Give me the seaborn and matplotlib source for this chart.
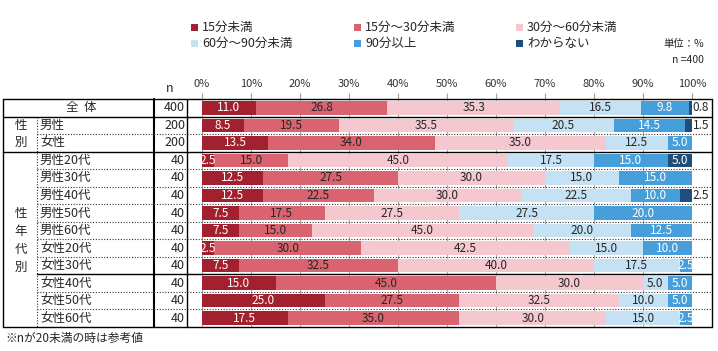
import matplotlib
matplotlib.use("Agg")
import matplotlib.pyplot as plt
import numpy as np
import pandas as pd
import seaborn as sns

# ---- data ----
CATEGORIES = ["全体", "男性", "女性",
              "男性20代", "男性30代", "男性40代", "男性50代", "男性60代",
              "女性20代", "女性30代", "女性40代", "女性50代", "女性60代"]
N_VALUES = [400, 200, 200, 40, 40, 40, 40, 40, 40, 40, 40, 40, 40]
SERIES = ["15分未満", "15分～30分未満", "30分～60分未満",
          "60分～90分未満", "90分以上", "わからない"]
LT15 = [11.0, 8.5, 13.5, 2.5, 12.5, 12.5, 7.5, 7.5, 2.5, 7.5, 15.0, 25.0, 17.5]
M15_30 = [26.8, 19.5, 34.0, 15.0, 27.5, 22.5, 17.5, 15.0, 30.0, 32.5, 45.0, 27.5, 35.0]
M30_60 = [35.3, 35.5, 35.0, 45.0, 30.0, 30.0, 27.5, 45.0, 42.5, 40.0, 30.0, 32.5, 30.0]
M60_90 = [16.5, 20.5, 12.5, 17.5, 15.0, 22.5, 27.5, 20.0, 15.0, 17.5, 5.0, 10.0, 15.0]
GE90 = [9.8, 14.5, 5.0, 15.0, 15.0, 10.0, 20.0, 12.5, 10.0, 2.5, 5.0, 5.0, 2.5]
UNKNOWN = [0.8, 1.5, 0.0, 5.0, 0.0, 2.5, 0.0, 0.0, 0.0, 0.0, 0.0, 0.0, 0.0]
TICKS = [0, 10, 20, 30, 40, 50, 60, 70, 80, 90, 100]

COLORS = ["#A3202F", "#D9646F", "#F5C8CF", "#C5E2F4", "#469FDA", "#1E4E7A"]
TEXT_COLORS = ["white", "#262626", "#262626", "#262626", "white", "white"]

W, H = 718, 351
TOP, ROW = 99.0, 17.54

sns.set_theme(style="white")
plt.rcParams["font.family"] = ["Noto Sans CJK JP", "DejaVu Sans"]

values = np.array([LT15, M15_30, M30_60, M60_90, GE90, UNKNOWN])
cums = values.cumsum(axis=0)

fig = plt.figure(figsize=(W / 100, H / 100), dpi=100)
ax = fig.add_axes([202 / W, 1 - (TOP + ROW * len(CATEGORIES)) / H,
                   490 / W, ROW * len(CATEGORIES) / H])
ax.set_facecolor("none")
ax.set_zorder(1)

# stacked bars: draw cumulative totals from the last series back to the first
for k in range(len(SERIES) - 1, -1, -1):
    df = pd.DataFrame({"区分": CATEGORIES, "cum": cums[k]})
    sns.barplot(data=df, x="cum", y="区分", order=CATEGORIES, orient="h",
                color=COLORS[k], width=0.77, saturation=1, ax=ax,
                linewidth=0, zorder=2)

for i in range(len(CATEGORIES)):
    for k in range(len(SERIES)):
        v = values[k, i]
        if v <= 0:
            continue
        if k == 5 and v < 3:
            ax.text(101.8, i, f"{v:.1f}", ha="center", va="center",
                    fontsize=8.5, color="#262626", clip_on=False)
            continue
        ax.text(cums[k, i] - v / 2, i, f"{v:.1f}", ha="center", va="center",
                fontsize=8.5, color=TEXT_COLORS[k], clip_on=True, zorder=5)

ax.set_xlim(0, 100)
ax.set_ylim(len(CATEGORIES) - 0.5, -0.5)
ax.xaxis.tick_top()
ax.set_xticks(TICKS)
ax.set_xticklabels([f"{t}%" for t in TICKS])
ax.tick_params(axis="x", length=4, width=0.8, color="#A0A0A0", pad=3,
               labelsize=8, labelcolor="#333333", top=True, bottom=False)
ax.set_yticks([])
ax.set_xlabel("")
ax.set_ylabel("")
for s in ax.spines.values():
    s.set_visible(False)
ax.grid(axis="x", color="#A8A8A8", lw=0.8)
ax.set_axisbelow(True)

# ---- table, labels and legend on a pixel overlay ----
ov = fig.add_axes([0, 0, 1, 1])
ov.set_xlim(0, W)
ov.set_ylim(H, 0)
ov.axis("off")
ov.set_zorder(3)
ov.patch.set_alpha(0)

bottom = TOP + ROW * len(CATEGORIES)
solid = dict(color="black", lw=1.0)
dotted = dict(color="#333333", lw=0.8, ls=(0, (1, 1.5)))
ov.plot([3, 712], [TOP, TOP], **solid)
ov.plot([3, 712], [bottom, bottom], **solid)
for x in [3, 187, 712]:
    ov.plot([x, x], [TOP, bottom], **solid)
ov.plot([154, 154], [TOP, bottom], color="black", lw=1.5)
ov.plot([37, 37], [TOP + ROW, bottom], **dotted)
for i in range(1, len(CATEGORIES)):
    y = TOP + ROW * i
    if i in (1, 3):
        ov.plot([3, 712], [y, y], **solid)
    elif i == 10:
        ov.plot([37, 712], [y, y], **solid)
    else:
        ov.plot([37, 712], [y, y], **dotted)

fs = 9
for i, (c, n) in enumerate(zip(CATEGORIES, N_VALUES)):
    y = TOP + ROW * (i + 0.5)
    if i == 0:
        ov.text(81, y, "全  体", ha="center", va="center", fontsize=fs)
    else:
        ov.text(40, y, c, ha="left", va="center", fontsize=fs)
    ov.text(185, y, str(n), ha="right", va="center", fontsize=fs)

for ch, y in zip("性別", [TOP + ROW * 1.5, TOP + ROW * 2.5]):
    ov.text(21, y, ch, ha="center", va="center", fontsize=fs)
for ch, y in zip("性年代別", [213, 231, 249, 267]):
    ov.text(21, y, ch, ha="center", va="center", fontsize=fs)

ov.text(170, 89, "n", ha="center", va="center", fontsize=fs)
ov.text(5, 338, "※nが20未満の時は参考値", ha="left", va="center", fontsize=8.5)
ov.text(704, 44, "単位：%", ha="right", va="center", fontsize=7.5)
ov.text(704, 60, "n =400", ha="right", va="center", fontsize=7.5)

leg_x = [194, 357, 519]
leg_y = [27, 43]
for k, name in enumerate(SERIES):
    x, y = leg_x[k % 3], leg_y[k // 3]
    ov.add_patch(plt.Rectangle((x - 3.5, y - 3.5), 7, 7, color=COLORS[k], lw=0))
    ov.text(x + 8, y, name, ha="left", va="center", fontsize=fs)

fig.savefig("out.png", dpi=100)
